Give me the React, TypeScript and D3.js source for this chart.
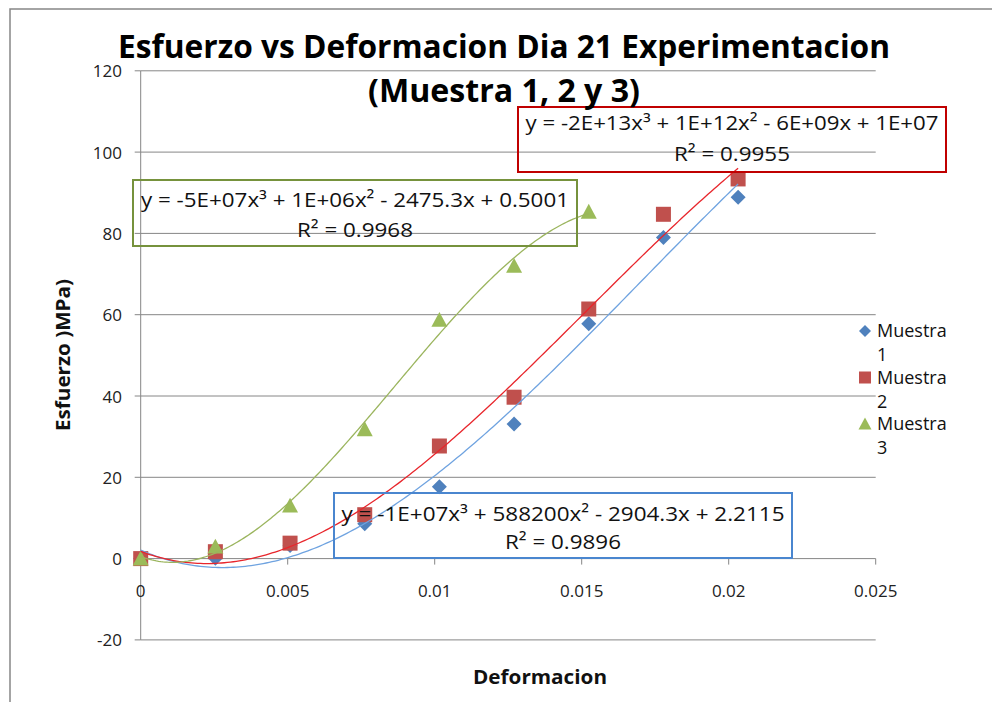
import React from 'react';
import * as d3 from 'd3';

// ---- Data ----
const deformacion = [0, 0.00254, 0.00508, 0.00762, 0.01016, 0.0127, 0.01524, 0.01778, 0.02032];
const muestra1 = [0, 0.1, 3.2, 8.6, 17.7, 33.1, 57.8, 79, 88.9];
const muestra2 = [0, 1.7, 3.8, 10.8, 27.7, 39.7, 61.4, 84.7, 93.4];
const muestra3 = [0, 2.9, 13.0, 31.8, 58.7, 72, 85.3];

const seriesNames = ['Muestra 1', 'Muestra 2', 'Muestra 3'];
const xTicks = [0, 0.005, 0.01, 0.015, 0.02, 0.025];
const xTickLabels = ['0', '0.005', '0.01', '0.015', '0.02', '0.025'];
const yTicks = [-20, 0, 20, 40, 60, 80, 100, 120];
const yTickLabels = ['-20', '0', '20', '40', '60', '80', '100', '120'];

const eqTexts = [
  'y = -1E+07x³ + 588200x² - 2904.3x + 2.2115',
  'y = -2E+13x³ + 1E+12x² - 6E+09x + 1E+07',
  'y = -5E+07x³ + 1E+06x² - 2475.3x + 0.5001',
];
const r2Texts = ['R² = 0.9896', 'R² = 0.9955', 'R² = 0.9968'];

const titleLine1 = 'Esfuerzo vs Deformacion Dia 21 Experimentacion';
const titleLine2 = '(Muestra 1, 2 y 3)';
const xTitle = 'Deformacion';
const yTitle = 'Esfuerzo )MPa)';

// ---- Fit (least squares cubic, like Excel's polynomial trendline) ----
function cubicFit(xs: number[], ys: number[]) {
  const s = 100;
  const n = 4;
  const A: number[][] = Array.from({ length: n }, () => Array(n + 1).fill(0));
  xs.forEach((x, i) => {
    const u = x * s;
    const p = [1, u, u * u, u * u * u];
    for (let r = 0; r < n; r++) {
      for (let c = 0; c < n; c++) A[r][c] += p[r] * p[c];
      A[r][n] += p[r] * ys[i];
    }
  });
  for (let i = 0; i < n; i++) {
    let piv = i;
    for (let k = i + 1; k < n; k++) if (Math.abs(A[k][i]) > Math.abs(A[piv][i])) piv = k;
    [A[i], A[piv]] = [A[piv], A[i]];
    for (let k = 0; k < n; k++) {
      if (k === i) continue;
      const f = A[k][i] / A[i][i];
      for (let c = i; c <= n; c++) A[k][c] -= f * A[i][c];
    }
  }
  const coef = A.map((row, i) => row[n] / row[i]);
  return (x: number) => {
    const u = x * s;
    return coef[0] + coef[1] * u + coef[2] * u * u + coef[3] * u * u * u;
  };
}

const FONT = '"Open Sans", "Liberation Sans", Arial, sans-serif';

export default function App() {
  const x = d3.scaleLinear().domain([0, 0.025]).range([140.7, 875.7]);
  const y = d3.scaleLinear().domain([-20, 120]).range([639.9, 70.8]);

  const series = [
    { name: seriesNames[0], ys: muestra1, color: '#4F81BD', line: '#6FA3E0', shape: 'diamond' },
    { name: seriesNames[1], ys: muestra2, color: '#C0504D', line: '#E8262C', shape: 'square' },
    { name: seriesNames[2], ys: muestra3, color: '#9BBB59', line: '#9BB55E', shape: 'triangle' },
  ];

  const lineGen = d3
    .line<[number, number]>()
    .x((d) => x(d[0]))
    .y((d) => y(d[1]));

  const marker = (shape: string, cx: number, cy: number, size: number, color: string, key: string) => {
    const h = size / 2;
    if (shape === 'diamond') {
      return (
        <path key={key} d={`M${cx},${cy - h}L${cx + h},${cy}L${cx},${cy + h}L${cx - h},${cy}Z`} fill={color} />
      );
    }
    if (shape === 'square') {
      return <rect key={key} x={cx - h} y={cy - h} width={size} height={size} fill={color} />;
    }
    return (
      <path key={key} d={`M${cx},${cy - h}L${cx + h},${cy + h * 0.85}L${cx - h},${cy + h * 0.85}Z`} fill={color} />
    );
  };

  const boxes = [
    { x0: 334, y0: 493, x1: 792, y1: 558, color: '#4A86CF', l1y: 521, l2y: 549, w1: 443 },
    { x0: 518, y0: 107, x1: 946, y1: 172, color: '#C00000', l1y: 130, l2y: 161, w1: 413 },
    { x0: 133, y0: 180, x1: 577, y1: 246, color: '#76923C', l1y: 207, l2y: 237, w1: 428 },
  ];

  return (
    <svg
      width={992}
      height={702}
      style={{ position: 'absolute', left: 0, top: 0, background: '#fff' }}
      fontFamily={FONT}
    >
      <rect x={0} y={0} width={992} height={702} fill="#fff" />
      <rect x={10} y={9} width={1000} height={720} fill="none" stroke="#868686" strokeWidth={1.5} />

      {/* gridlines */}
      {yTicks.map((t) => (
        <line key={'g' + t} x1={x(0)} x2={x(0.025)} y1={y(t)} y2={y(t)} stroke="#868686" strokeWidth={1} />
      ))}
      {/* y axis */}
      <line x1={x(0)} x2={x(0)} y1={y(120)} y2={y(-20)} stroke="#868686" strokeWidth={1} />
      {yTicks.map((t) => (
        <line key={'yt' + t} x1={x(0) - 6} x2={x(0)} y1={y(t)} y2={y(t)} stroke="#868686" strokeWidth={1} />
      ))}
      {/* x ticks on zero line */}
      {xTicks.map((t) => (
        <line key={'xt' + t} x1={x(t)} x2={x(t)} y1={y(0)} y2={y(0) + 6} stroke="#868686" strokeWidth={1} />
      ))}

      {/* tick labels */}
      {yTicks.map((t, i) => (
        <text key={'yl' + t} x={122} y={y(t) + 6.5} textAnchor="end" fontSize={17} fill="#222">
          {yTickLabels[i]}
        </text>
      ))}
      {xTicks.map((t, i) => (
        <text key={'xl' + t} x={x(t)} y={597} textAnchor="middle" fontSize={17} fill="#222">
          {xTickLabels[i]}
        </text>
      ))}

      {/* markers */}
      {series.map((s, si) =>
        s.ys.map((v, i) =>
          marker(s.shape, x(deformacion[i]), y(v), s.shape === 'triangle' ? 16 : 15, s.color, `m${si}-${i}`)
        )
      )}

      {/* trendlines */}
      {series.map((s, si) => {
        const xs = deformacion.slice(0, s.ys.length);
        const f = cubicFit(xs, s.ys);
        const last = xs[xs.length - 1];
        const pts: [number, number][] = d3.range(0, 201).map((k) => {
          const xv = (last * k) / 200;
          return [xv, f(xv)];
        });
        return <path key={'tl' + si} d={lineGen(pts) || ''} fill="none" stroke={s.line} strokeWidth={1.3} />;
      })}

      {/* equation boxes */}
      {boxes.map((b, i) => (
        <g key={'box' + i}>
          <rect x={b.x0} y={b.y0} width={b.x1 - b.x0} height={b.y1 - b.y0} fill="none" stroke={b.color} strokeWidth={2} />
          <text
            x={(b.x0 + b.x1) / 2}
            y={b.l1y}
            textAnchor="middle"
            fontSize={20}
            fill="#111"
            textLength={b.w1}
            lengthAdjust="spacingAndGlyphs"
          >
            {eqTexts[i]}
          </text>
          <text x={(b.x0 + b.x1) / 2} y={b.l2y} textAnchor="middle" fontSize={20} fill="#111" textLength={116} lengthAdjust="spacingAndGlyphs">
            {r2Texts[i]}
          </text>
        </g>
      ))}

      {/* title */}
      <text x={504} y={58} textAnchor="middle" fontSize={32} fontWeight="bold" fill="#000" textLength={772} lengthAdjust="spacingAndGlyphs">
        {titleLine1}
      </text>
      <text x={504} y={102} textAnchor="middle" fontSize={32} fontWeight="bold" fill="#000" textLength={272} lengthAdjust="spacingAndGlyphs">
        {titleLine2}
      </text>

      {/* axis titles */}
      <text x={540} y={684} textAnchor="middle" fontSize={20} fontWeight="bold" fill="#111" textLength={134} lengthAdjust="spacingAndGlyphs">
        {xTitle}
      </text>
      <text
        transform="translate(70,355) rotate(-90)"
        textAnchor="middle"
        fontSize={20}
        fontWeight="bold"
        fill="#111"
        textLength={152}
        lengthAdjust="spacingAndGlyphs"
      >
        {yTitle}
      </text>

      {/* legend */}
      {series.map((s, i) => {
        const cy = 331 + i * 46.5;
        const parts = s.name.split(' ');
        return (
          <g key={'lg' + i}>
            {marker(s.shape, 865, cy, s.shape === 'triangle' ? 13 : 12, s.color, 'lm' + i)}
            <text x={877} y={cy + 6} fontSize={18} fill="#111">
              {parts[0]}
            </text>
            <text x={877} y={cy + 30} fontSize={18} fill="#111">
              {parts[1]}
            </text>
          </g>
        );
      })}
    </svg>
  );
}
